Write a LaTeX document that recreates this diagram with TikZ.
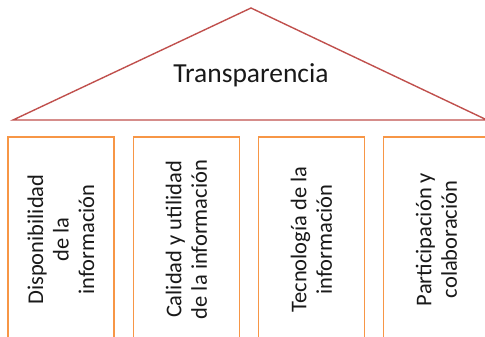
\documentclass[tikz,border=0pt]{standalone}
\usepackage{fontspec}
\setmainfont{Carlito}
\definecolor{roofred}{HTML}{C0504D}
\definecolor{pillar}{HTML}{F79646}
\begin{document}
\begin{tikzpicture}[x=1pt,y=-1pt,
  pillarbox/.style={draw=pillar,line width=1.4pt,rotate=90,minimum width=205pt,minimum height=106pt,align=center,inner sep=0pt,font=\fontsize{22.5}{25.5}\selectfont,text=black!90},
  roof/.style={draw=roofred,line width=1.4pt}]
\useasboundingbox (0,0) rectangle (485,337);
\coordinate (apex) at (251,8);
\coordinate (bl) at (13,120);
\coordinate (br) at (487,120);
\draw[roof] (bl) -- (apex) -- (br) -- cycle;
\node[font=\fontsize{27.5}{30}\selectfont,text=black!90] (roofT) at (251,75) {Transparencia};
\node[pillarbox] (p1) at (61,239.5) {Disponibilidad\\de la\\información};
\node[pillarbox] (p2) at (186.5,239.5) {Calidad y utilidad\\de la información};
\node[pillarbox] (p3) at (311.5,239.5) {Tecnología de la\\información};
\node[pillarbox] (p4) at (436.5,239.5) {Participación y\\colaboración};
\end{tikzpicture}
\end{document}
